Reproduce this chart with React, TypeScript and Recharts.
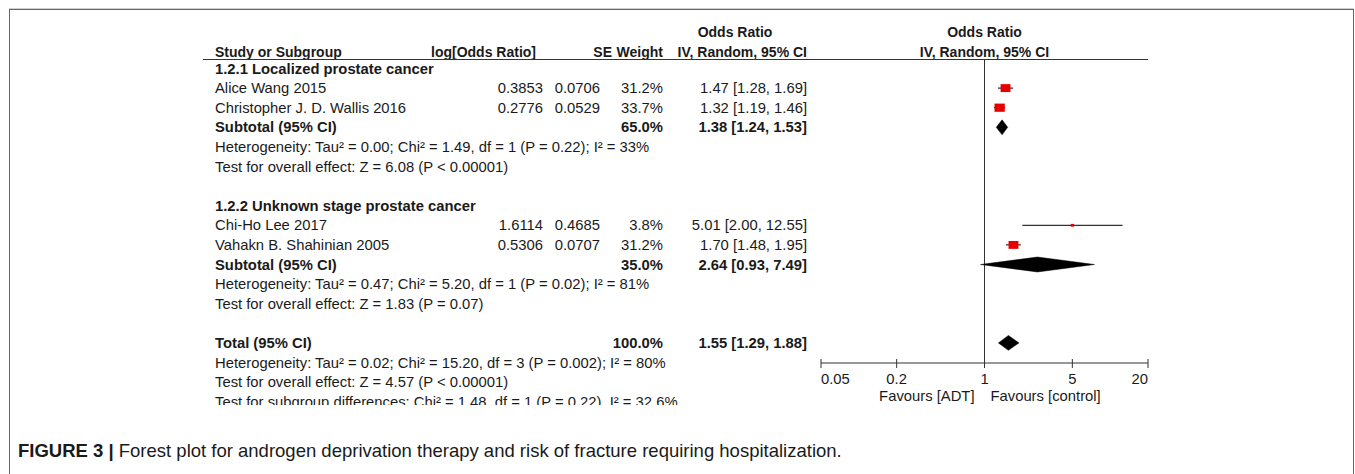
import React from "react";
import {
  ComposedChart, Scatter, ErrorBar, Area, XAxis, YAxis, ReferenceLine,
} from "recharts";

// ---------- data ----------
const groupTitles = ["1.2.1 Localized prostate cancer", "1.2.2 Unknown stage prostate cancer"];

const studyNames = ["Alice Wang 2015", "Christopher J. D. Wallis 2016", "Chi-Ho Lee 2017", "Vahakn B. Shahinian 2005"];
const studyGroup = [0, 0, 1, 1];
const studyLogOR = [0.3853, 0.2776, 1.6114, 0.5306];
const studySE = [0.0706, 0.0529, 0.4685, 0.0707];
const studyWeight = [31.2, 33.7, 3.8, 31.2];
const studyOR = [1.47, 1.32, 5.01, 1.7];
const studyLo = [1.28, 1.19, 2.0, 1.48];
const studyHi = [1.69, 1.46, 12.55, 1.95];

const subtotalWeight = [65.0, 35.0];
const subtotalOR = [1.38, 2.64];
const subtotalLo = [1.24, 0.93];
const subtotalHi = [1.53, 7.49];

const totalWeight = 100.0;
const totalOR = 1.55;
const totalLo = 1.29;
const totalHi = 1.88;

const heterogeneity = [
  "Heterogeneity: Tau² = 0.00; Chi² = 1.49, df = 1 (P = 0.22); I² = 33%",
  "Heterogeneity: Tau² = 0.47; Chi² = 5.20, df = 1 (P = 0.02); I² = 81%",
  "Heterogeneity: Tau² = 0.02; Chi² = 15.20, df = 3 (P = 0.002); I² = 80%",
];
const overallEffect = [
  "Test for overall effect: Z = 6.08 (P < 0.00001)",
  "Test for overall effect: Z = 1.83 (P = 0.07)",
  "Test for overall effect: Z = 4.57 (P < 0.00001)",
];
const subgroupTest = "Test for subgroup differences: Chi² = 1.48, df = 1 (P = 0.22), I² = 32.6%";

const axisTicks = [0.05, 0.2, 1, 5, 20];
const caption = "Forest plot for androgen deprivation therapy and risk of fracture requiring hospitalization.";

// ---------- layout ----------
const W = 1355;
const H = 474;
const FONT = '"Liberation Sans", Arial, sans-serif';
const FS = 14.8;
const HFS = 14;
const PLOT_L = 821;
const PLOT_R = 1148;
const HEADER_LINE_Y = 59;
const AXIS_Y = 363;
const ROW = 19.6;
const FIRST_ROW_Y = 68.5;
const Y_DOMAIN: [number, number] = [-0.5, 19];
const COL = { study: 215, logOR: 543, se: 600, weight: 663, ci: 807 };

const ci = (o: number, l: number, h: number) => `${o.toFixed(2)} [${l.toFixed(2)}, ${h.toFixed(2)}]`;

// table rows, one slot per line of the RevMan table
type Row = {
  x: number; y: number; label: string; bold?: boolean;
  logOR?: string; se?: string; weight?: string; ci?: string;
};
const rows: Row[] = [];
const studyPts: any[] = [];
const diamonds: any[][] = [];

const diamond = (o: number, l: number, h: number, s: number) => [
  { x: l, band: [s, s] },
  { x: o, band: [s - 0.38, s + 0.38] },
  { x: h, band: [s, s] },
];

let slot = 0;
[0, 1].forEach((g) => {
  rows.push({ x: 1, y: slot++, label: groupTitles[g], bold: true });
  studyNames.forEach((name, i) => {
    if (studyGroup[i] !== g) return;
    rows.push({
      x: 1, y: slot, label: name,
      logOR: studyLogOR[i].toFixed(4), se: studySE[i].toFixed(4),
      weight: `${studyWeight[i].toFixed(1)}%`, ci: ci(studyOR[i], studyLo[i], studyHi[i]),
    });
    studyPts.push({
      x: studyOR[i], y: slot, w: studyWeight[i],
      err: [studyOR[i] - studyLo[i], studyHi[i] - studyOR[i]],
    });
    slot++;
  });
  rows.push({
    x: 1, y: slot, label: "Subtotal (95% CI)", bold: true,
    weight: `${subtotalWeight[g].toFixed(1)}%`, ci: ci(subtotalOR[g], subtotalLo[g], subtotalHi[g]),
  });
  diamonds.push(diamond(subtotalOR[g], subtotalLo[g], subtotalHi[g], slot));
  slot++;
  rows.push({ x: 1, y: slot++, label: heterogeneity[g] });
  rows.push({ x: 1, y: slot++, label: overallEffect[g] });
  slot++; // blank line
});
rows.push({
  x: 1, y: slot, label: "Total (95% CI)", bold: true,
  weight: `${totalWeight.toFixed(1)}%`, ci: ci(totalOR, totalLo, totalHi),
});
diamonds.push(diamond(totalOR, totalLo, totalHi, slot));
slot++;
rows.push({ x: 1, y: slot++, label: heterogeneity[2] });
rows.push({ x: 1, y: slot++, label: overallEffect[2] });
rows.push({ x: 1, y: slot++, label: subgroupTest });

// ---------- shapes ----------
function RowText(props: any) {
  const { cy, payload } = props;
  const t = {
    y: cy, dominantBaseline: "central" as const, fontFamily: FONT, fontSize: FS,
    fill: "#1a1a1a", fontWeight: payload.bold ? 700 : 400,
  };
  return (
    <g>
      <text x={COL.study} {...t}>{payload.label}</text>
      {payload.logOR && <text x={COL.logOR} textAnchor="end" {...t}>{payload.logOR}</text>}
      {payload.se && <text x={COL.se} textAnchor="end" {...t}>{payload.se}</text>}
      {payload.weight && <text x={COL.weight} textAnchor="end" {...t}>{payload.weight}</text>}
      {payload.ci && <text x={COL.ci} textAnchor="end" {...t}>{payload.ci}</text>}
    </g>
  );
}

function StudySquare(props: any) {
  const { cx, cy, payload } = props;
  const k = Math.sqrt(payload.w / 32);
  const w = 10 * k;
  const h = 8 * k;
  return <rect x={cx - w / 2} y={cy - h / 2} width={w} height={h} fill="#e60000" />;
}

function AxisTick(props: any) {
  const { x, y, payload, index } = props;
  const last = axisTicks.length - 1;
  const anchor = index === 0 ? "start" : index === last ? "end" : "middle";
  const t = { fontFamily: FONT, fontSize: FS, fill: "#1a1a1a", dominantBaseline: "central" as const };
  return (
    <g>
      <line x1={x} x2={x} y1={y - 4} y2={y + 5} stroke="#333" />
      <text x={x} y={y + 16} textAnchor={anchor} {...t}>{payload.value}</text>
      {payload.value === 1 && (
        <>
          <text x={x - 10} y={y + 33} textAnchor="end" {...t}>Favours [ADT]</text>
          <text x={x + 6} y={y + 33} textAnchor="start" {...t}>Favours [control]</text>
        </>
      )}
    </g>
  );
}

const plotTop = FIRST_ROW_Y + Y_DOMAIN[0] * ROW;
const plotBottom = FIRST_ROW_Y + Y_DOMAIN[1] * ROW;

export default function App() {
  const hdr = { fontFamily: FONT, fontSize: HFS, fontWeight: 700, fill: "#1a1a1a", dominantBaseline: "central" as const };
  const mid = (PLOT_L + PLOT_R) / 2;
  return (
    <div style={{ position: "absolute", left: 0, top: 0, width: W, height: H, background: "#fff", overflow: "hidden" }}>
      <div style={{
        position: "absolute", left: 9, top: 9, width: 1343, height: 500,
        borderTop: "1px solid #666", borderLeft: "1px solid #666", borderRight: "1px solid #666",
        boxShadow: "0 -1px 0 #d0d0d0",
      }} />

      <svg width={W} height={H} style={{ position: "absolute", left: 0, top: 0 }}>
        <text x={735} y={32} textAnchor="middle" {...hdr}>Odds Ratio</text>
        <text x={mid} y={32} textAnchor="middle" {...hdr}>Odds Ratio</text>
        <text x={COL.study} y={52} {...hdr}>Study or Subgroup</text>
        <text x={536} y={52} textAnchor="end" {...hdr}>log[Odds Ratio]</text>
        <text x={612} y={52} textAnchor="end" {...hdr}>SE</text>
        <text x={COL.weight} y={52} textAnchor="end" {...hdr}>Weight</text>
        <text x={COL.ci} y={52} textAnchor="end" {...hdr}>IV, Random, 95% CI</text>
        <text x={mid} y={52} textAnchor="middle" {...hdr}>IV, Random, 95% CI</text>
        <line x1={203} x2={PLOT_R} y1={HEADER_LINE_Y + 0.5} y2={HEADER_LINE_Y + 0.5} stroke="#333" />
      </svg>

      {/* axis + line of no effect */}
      <div style={{ position: "absolute", left: 0, top: 0 }}>
        <ComposedChart width={W} height={H} margin={{ top: HEADER_LINE_Y, right: W - PLOT_R, bottom: H - AXIS_Y - 30, left: PLOT_L }}>
          <XAxis
            type="number" dataKey="x" scale="log" domain={[0.05, 20]} ticks={axisTicks}
            allowDataOverflow interval={0} height={30}
            axisLine={{ stroke: "#333" }} tickLine={false} tickSize={0} tickMargin={0}
            tick={(p: any) => <AxisTick {...p} />}
          />
          <YAxis type="number" dataKey="y" domain={[0, 1]} allowDataOverflow hide />
          <ReferenceLine x={1} stroke="#333" ifOverflow="visible" />
        </ComposedChart>
      </div>

      {/* table text and study markers; clipped like the source image */}
      <div style={{ position: "absolute", left: 0, top: 0, width: W, height: 405, overflow: "hidden" }}>
        <ComposedChart width={W} height={H} margin={{ top: plotTop, right: W - PLOT_R, bottom: H - plotBottom, left: PLOT_L }}>
          <XAxis type="number" dataKey="x" scale="log" domain={[0.05, 20]} hide />
          <YAxis type="number" dataKey="y" domain={Y_DOMAIN} reversed hide />
          <Scatter data={rows} isAnimationActive={false} shape={(p: any) => <RowText {...p} />} />
          {diamonds.map((d, i) => (
            <Area
              key={i} data={d} dataKey="band" type="linear" isAnimationActive={false}
              stroke="#000" strokeWidth={0.5} fill="#000" fillOpacity={1} dot={false} activeDot={false}
            />
          ))}
          <Scatter data={studyPts} isAnimationActive={false} shape={(p: any) => <StudySquare {...p} />}>
            <ErrorBar dataKey="err" direction="x" width={0} stroke="#000" strokeWidth={1} />
          </Scatter>
        </ComposedChart>
      </div>

      <div style={{ position: "absolute", left: 18, top: 440, fontFamily: FONT, fontSize: 18.5, color: "#1a1a1a", whiteSpace: "nowrap" }}>
        <b>FIGURE 3 |</b> {caption}
      </div>
    </div>
  );
}
